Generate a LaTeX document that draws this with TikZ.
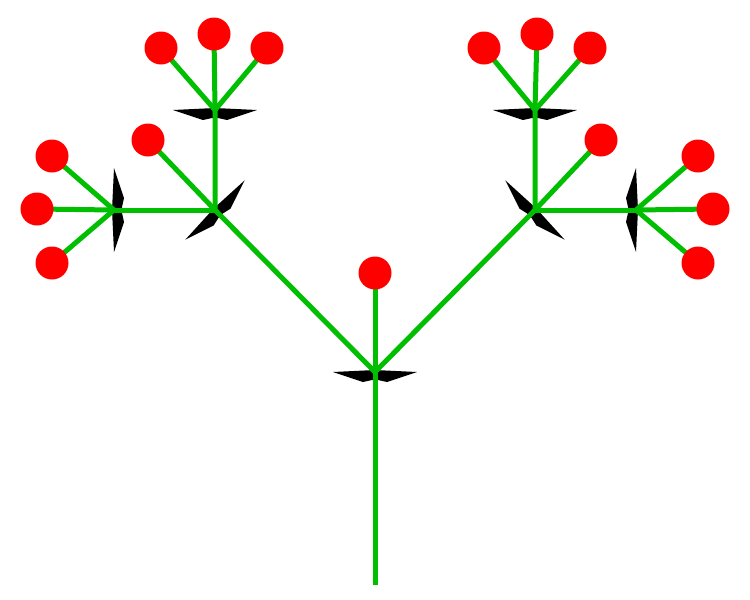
\documentclass[tikz,border=0pt]{standalone}
\usepackage{tikz}

\tikzset{
  ray/.style={draw={rgb,255:red,0;green,190;blue,0}, line width=5pt},
  ball/.style={circle, fill=red, minimum size=25pt, inner sep=0pt},
  bract/.pic={\fill (0,-2) -- (42,0) -- (12,10) -- (3,8) -- (-3,8) -- (-12,10) -- (-42,0) -- cycle;}
}

\begin{document}
\begin{tikzpicture}[x=1pt,y=-1pt]
    \useasboundingbox (0,0) rectangle (750,600);

    % umbel centres
    \coordinate (base) at (375,585);
    \coordinate (c0) at (375,372);
    \coordinate (lm) at (215,210);
    \coordinate (lt) at (215,110);
    \coordinate (ls) at (114,210);
    \coordinate (rm) at (535,210);
    \coordinate (rt) at (535,110);
    \coordinate (rs) at (636,210);

    % bracts
    \pic at (c0) {bract};
    \pic[rotate=45] at (lm) {bract};
    \pic at (lt) {bract};
    \pic[rotate=90] at (ls) {bract};
    \pic[rotate=-45] at (rm) {bract};
    \pic at (rt) {bract};
    \pic[rotate=-90] at (rs) {bract};

    % flowers
    \node[ball] (f0) at (375,273) {};
    \node[ball] (lt1) at (161,48) {};
    \node[ball] (lt2) at (214,34) {};
    \node[ball] (lt3) at (267,48) {};
    \node[ball] (lm1) at (148,140) {};
    \node[ball] (ls1) at (52,156) {};
    \node[ball] (ls2) at (37,209) {};
    \node[ball] (ls3) at (52,263) {};
    \node[ball] (rt1) at (484,48) {};
    \node[ball] (rt2) at (537,34) {};
    \node[ball] (rt3) at (590,48) {};
    \node[ball] (rm1) at (601,140) {};
    \node[ball] (rs1) at (698,156) {};
    \node[ball] (rs2) at (713,209) {};
    \node[ball] (rs3) at (698,263) {};

    % stems
    \draw[ray] (base) -- (c0) -- (f0);
    \draw[ray] (c0) -- (lm) -- (lt);
    \draw[ray] (c0) -- (rm) -- (rt);
    \draw[ray] (lm) -- (lm1);
    \draw[ray] (lm) -- (ls);
    \draw[ray] (rm) -- (rm1);
    \draw[ray] (rm) -- (rs);
    \foreach \i in {1,2,3} {
      \draw[ray] (lt) -- (lt\i);
      \draw[ray] (ls) -- (ls\i);
      \draw[ray] (rt) -- (rt\i);
      \draw[ray] (rs) -- (rs\i);
    }

    % redraw flowers above the stems
    \foreach \f in {f0,lt1,lt2,lt3,lm1,ls1,ls2,ls3,rt1,rt2,rt3,rm1,rs1,rs2,rs3}
      \fill[red] (\f) circle (16.5);
\end{tikzpicture}
\end{document}
